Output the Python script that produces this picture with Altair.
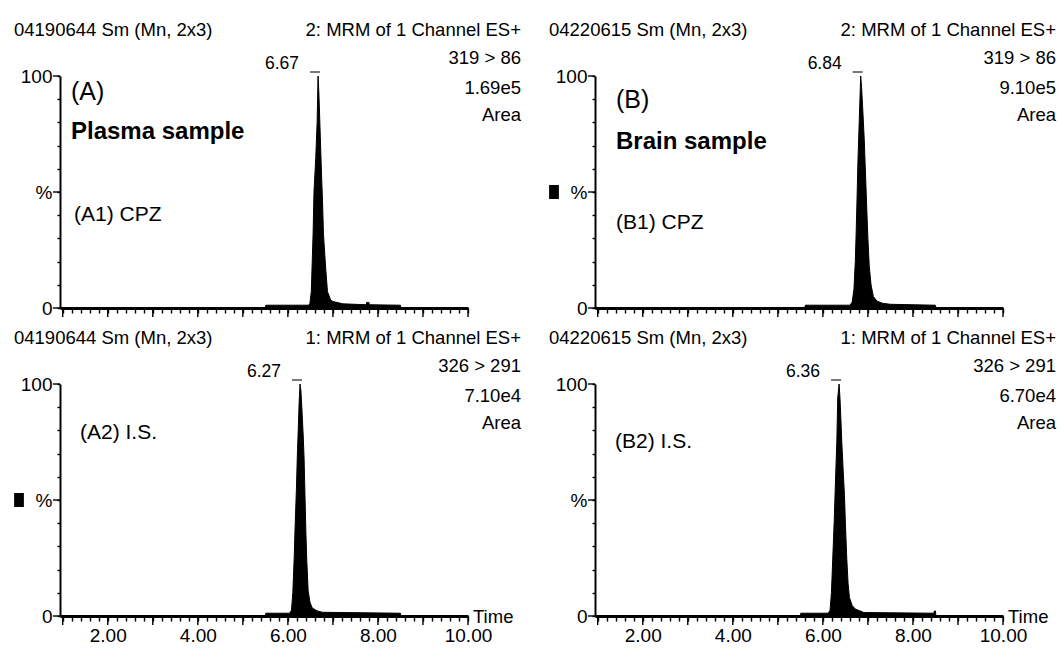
import altair as alt
import pandas as pd

FONT = "'Liberation Sans', Arial, sans-serif"

# ---- chromatogram traces: retention time (min) and relative intensity (%) ----
t_a1 = [0.94, 5.50, 5.51, 6.46, 6.49, 6.52, 6.56, 6.58, 6.62, 6.65, 6.67, 6.69, 6.72,
        6.75, 6.77, 6.79, 6.84, 6.88, 6.95, 7.00, 7.22, 7.74, 7.75, 7.80, 7.81, 8.50, 8.51, 10.00]
v_a1 = [0, 0, 1.2, 1.2, 2, 7, 32, 50, 65, 80, 100, 92, 74,
        56, 46, 32, 17, 7, 3.5, 2.8, 1.8, 1.4, 2.4, 2.4, 1.4, 1.2, 0, 0]

t_b1 = [0.94, 5.60, 5.61, 6.60, 6.65, 6.69, 6.72, 6.74, 6.76, 6.78, 6.80, 6.82, 6.84, 6.86,
        6.89, 6.92, 6.95, 6.98, 7.00, 7.03, 7.07, 7.12, 7.20, 7.33, 7.50, 8.50, 8.51, 10.00]
v_b1 = [0, 0, 1.2, 1.2, 2.5, 8, 20, 33, 48, 64, 76, 88, 100, 95,
        84, 72, 56, 40, 30, 18, 10, 5, 3, 2, 1.6, 1.2, 0, 0]

t_a2 = [0.94, 5.50, 5.51, 6.04, 6.08, 6.11, 6.14, 6.16, 6.19, 6.21, 6.23, 6.25, 6.27, 6.29,
        6.31, 6.34, 6.36, 6.38, 6.40, 6.42, 6.45, 6.49, 6.54, 6.65, 6.77, 8.50, 8.51, 10.00]
v_a2 = [0, 0, 1.2, 1.2, 2.5, 10, 25, 38, 55, 69, 80, 92, 100, 97,
        90, 78, 68, 52, 36, 24, 11, 6, 3.5, 2.2, 1.6, 1.2, 0, 0]

t_b2 = [0.94, 5.50, 5.51, 6.12, 6.16, 6.19, 6.22, 6.25, 6.27, 6.29, 6.31, 6.33, 6.36, 6.38,
        6.40, 6.42, 6.45, 6.48, 6.50, 6.53, 6.56, 6.59, 6.65, 6.72, 6.91, 8.46, 8.48, 8.50,
        8.51, 10.00]
v_b2 = [0, 0, 1.2, 1.2, 2.5, 10, 25, 40, 52, 64, 75, 94, 100, 94,
        85, 75, 63, 52, 40, 25, 14, 8, 4.5, 3, 1.5, 1.2, 2.2, 2.2,
        0, 0]

# peak apex retention times
rt_a1, rt_b1, rt_a2, rt_b2 = 6.67, 6.84, 6.27, 6.36

# axis ticks
x_minor = [round(1.0 + 0.2 * i, 1) for i in range(46)]
x_major = list(range(1, 11))
y_minor = list(range(0, 101, 10))
y_major = [0, 50, 100]

# ---- panel geometry ----
W, H = 408, 232
T0, T1 = 0.94, 10.0


def tx(px):
    return T0 + px * (T1 - T0) / W


def vy(py):
    return 100.0 - py * 100.0 / H


one = alt.Data(values=[{"k": 0}])
X_SCALE = alt.Scale(domain=[T0, T1], nice=False, zero=False)
Y_SCALE = alt.Scale(domain=[0, 100], nice=False)


def x_axis(show_labels):
    return alt.Axis(
        values=x_minor, tickSize=5, tickWidth=1.4, tickColor="black",
        domainColor="black", domainWidth=3,
        labels=show_labels,
        labelExpr="abs(datum.value % 2) < 0.01 ? format(datum.value, '.2f') : ''",
        labelFont=FONT, labelFontSize=19, labelColor="black", labelPadding=5,
        labelFlush=False, labelOverlap=False, grid=False, title=None,
    )


Y_AXIS = alt.Axis(
    values=y_minor, tickSize=3, tickWidth=1.4, tickColor="black",
    domainColor="black", domainWidth=2,
    labelExpr="datum.value === 100 ? '100' : datum.value === 50 ? '%' : datum.value === 0 ? '0' : ''",
    labelFont=FONT, labelFontSize=19, labelColor="black", labelPadding=5,
    labelFlush=False, labelOverlap=False, grid=False, title=None,
)


def panel(times, values, rt, file_id, channel, transition, intensity, notes, square, bottom):
    xa = x_axis(bottom)

    # every layer of a panel carries the same scale and axis so they merge cleanly
    def xd(v):
        return alt.XDatum(v, scale=X_SCALE, axis=xa)

    def yd(v):
        return alt.YDatum(v, scale=Y_SCALE, axis=Y_AXIS)

    def text(s, px, py, size=18.5, align="left", weight="normal"):
        return alt.Chart(one).mark_text(
            text=s, align=align, baseline="middle", font=FONT, fontSize=size,
            fontWeight=weight, color="black",
        ).encode(x=xd(tx(px)), y=yd(vy(py)))

    df = pd.DataFrame({"t": times, "v": values})
    base = alt.Chart(df)
    x = alt.X("t:Q", scale=X_SCALE, axis=xa)
    y = alt.Y("v:Q", scale=Y_SCALE, axis=Y_AXIS)
    layers = [
        base.mark_area(color="black", interpolate="linear").encode(x=x, y=y),
        base.mark_line(color="black", strokeWidth=1).encode(x=x, y=y),
        # longer ticks at whole minutes and at 0 / 50 / 100 %
        alt.Chart(pd.DataFrame({"m": x_major})).mark_rule(color="black", strokeWidth=1.4)
        .encode(x=alt.X("m:Q", scale=X_SCALE, axis=xa), y=yd(0), y2=alt.datum(vy(H + 9))),
        alt.Chart(pd.DataFrame({"p": y_major})).mark_rule(color="black", strokeWidth=1.4)
        .encode(y=alt.Y("p:Q", scale=Y_SCALE, axis=Y_AXIS), x=xd(T0), x2=alt.datum(tx(-7))),
        # header block
        text(file_id, -46, -46),
        text(channel, W + 53, -46, align="right"),
        text(transition, W + 53, -18, align="right"),
        text(intensity, W + 53, 12, align="right"),
        text("Area", W + 53, 39, align="right"),
        # apex marker and retention time
        alt.Chart(one).mark_tick(orient="horizontal", size=10, thickness=1.5, color="black", xOffset=-3)
        .encode(x=xd(rt), y=yd(vy(-4))),
        alt.Chart(one).mark_text(text=f"{rt:.2f}", align="right", baseline="middle", font=FONT,
                                 fontSize=17.5, color="black", dx=-19)
        .encode(x=xd(rt), y=yd(vy(-12))),
    ]
    for s, px, py, size, weight in notes:
        layers.append(text(s, px, py, size=size, weight=weight))
    if square:
        layers.append(
            alt.Chart(one).mark_point(shape="M-0.7,-1H0.7V1H-0.7Z", filled=True, size=196,
                                      color="black", opacity=1, strokeWidth=0)
            .encode(x=xd(tx(-41)), y=yd(50))
        )
    if bottom:
        layers.append(text("Time", W + 5, H + 1))
    return alt.layer(*layers).properties(width=W, height=H)


a1 = panel(t_a1, v_a1, rt_a1, "04190644 Sm (Mn, 2x3)", "2: MRM of 1 Channel ES+", "319 > 86", "1.69e5",
           [("(A)", 11, 16, 25, "normal"), ("Plasma sample", 11, 56, 24, "bold"),
            ("(A1) CPZ", 14, 139, 21, "normal")], False, False)
b1 = panel(t_b1, v_b1, rt_b1, "04220615 Sm (Mn, 2x3)", "2: MRM of 1 Channel ES+", "319 > 86", "9.10e5",
           [("(B)", 21, 24, 25, "normal"), ("Brain sample", 21, 66, 24, "bold"),
            ("(B1) CPZ", 21, 147, 21, "normal")], True, False)
a2 = panel(t_a2, v_a2, rt_a2, "04190644 Sm (Mn, 2x3)", "1: MRM of 1 Channel ES+", "326 > 291", "7.10e4",
           [("(A2) I.S.", 20, 49, 21, "normal")], True, True)
b2 = panel(t_b2, v_b2, rt_b2, "04220615 Sm (Mn, 2x3)", "1: MRM of 1 Channel ES+", "326 > 291", "6.70e4",
           [("(B2) I.S.", 20, 58, 21, "normal")], False, True)

chart = (
    alt.concat(a1, b1, a2, b2, columns=2, spacing={"row": 76, "column": 127}, bounds="flush")
    .properties(
        autosize=alt.AutoSizeParams(type="none"),
        padding={"left": 60, "top": 76, "right": 1001, "bottom": 580},
    )
    .configure_view(strokeWidth=0)
)

chart.save("out.html", embed_options={"renderer": "svg", "actions": False})
